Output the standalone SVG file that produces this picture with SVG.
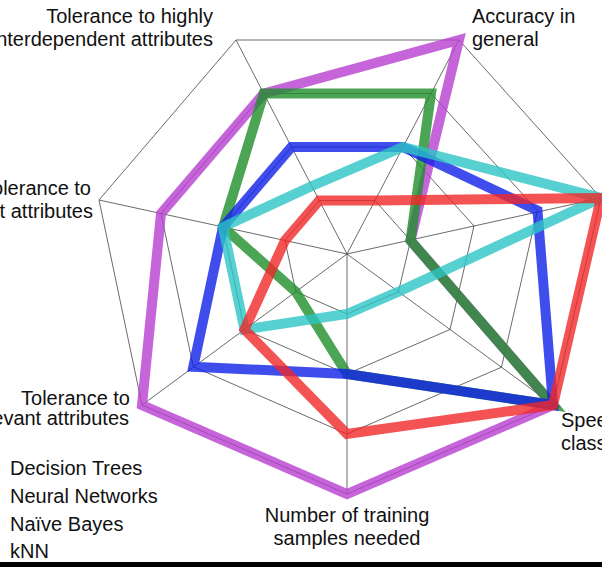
<svg xmlns="http://www.w3.org/2000/svg" width="602" height="567" viewBox="0 0 602 567">
<style>
.g{fill:none;stroke:#444;stroke-width:0.8}
.s{fill:none;stroke-width:10;stroke-linejoin:miter;opacity:0.8}
text{font-family:"Liberation Sans",Arial,sans-serif;font-size:20px;fill:#111}
</style>
<rect width="602" height="567" fill="#fff"/>
<g id="grid">
<polygon class="g" points="236,40 459,40 601,198 553,405 347,494 142,405 99,200"/>
<polygon class="g" points="263.8,93.5 431,93.5 537.5,210.5 501.5,367.2 347,434 193.3,366.7 161,213.5"/>
<polygon class="g" points="291.5,147 403,147 474,226 450,329.5 347,374 244.5,329.5 223,227"/>
<polygon class="g" points="319.3,200.5 375,200.5 410.5,240.5 398.5,291.7 347,314 295.8,291.7 285,240.5"/>
<path class="g" d="M347,254L236,40M347,254L459,40M347,254L601,198M347,254L553,405M347,254L347,494M347,254L142,405M347,254L99,200"/>
</g>
<g id="connectors">
<polygon id="knn" class="s" stroke="#b63fd0" points="263.8,93.5 459,40 410.5,240.5 553,405 347,494 142,405 161,213.5"/>
<polygon id="dt" class="s" stroke="#1e8f2a" points="263.8,93.5 431,93.5 410.5,240.5 553,405 347,374 295.8,291.7 223,227"/>
<polygon id="nn" class="s" stroke="#1020e8" points="291.5,147 403,147 537.5,210.5 553,405 347,374 193.3,366.7 223,227"/>
<polygon id="nb" class="s" stroke="#2cc4c4" points="312,186 403,147 601,198 398.5,291.7 347,314 244.5,329.5 223,227"/>
<polygon id="red" class="s" stroke="#f02828" points="319.3,200.5 375,200.5 601,198 553,405 347,434 244.5,329.5 285,240.5"/>
</g>
<g id="labels">
<text x="213" y="23" text-anchor="end">Tolerance to highly</text>
<text x="213" y="46" text-anchor="end">interdependent attributes</text>
<text x="472" y="23">Accuracy in</text>
<text x="472" y="46">general</text>
<text x="91" y="195" text-anchor="end">Tolerance to</text>
<text x="93" y="218" text-anchor="end">redundant attributes</text>
<text x="130" y="405" text-anchor="end">Tolerance to</text>
<text x="129" y="425" text-anchor="end">irrelevant attributes</text>
<text x="561" y="427">Speed of</text>
<text x="561" y="450">classification</text>
<text x="347" y="522" text-anchor="middle">Number of training</text>
<text x="347" y="545" text-anchor="middle">samples needed</text>
</g>
<g id="legend">
<text x="10" y="475">Decision Trees</text>
<text x="10" y="503">Neural Networks</text>
<text x="10" y="531">Naïve Bayes</text>
<text x="10" y="558">kNN</text>
</g>
<rect x="0" y="562" width="602" height="5" fill="#000"/>
</svg>
